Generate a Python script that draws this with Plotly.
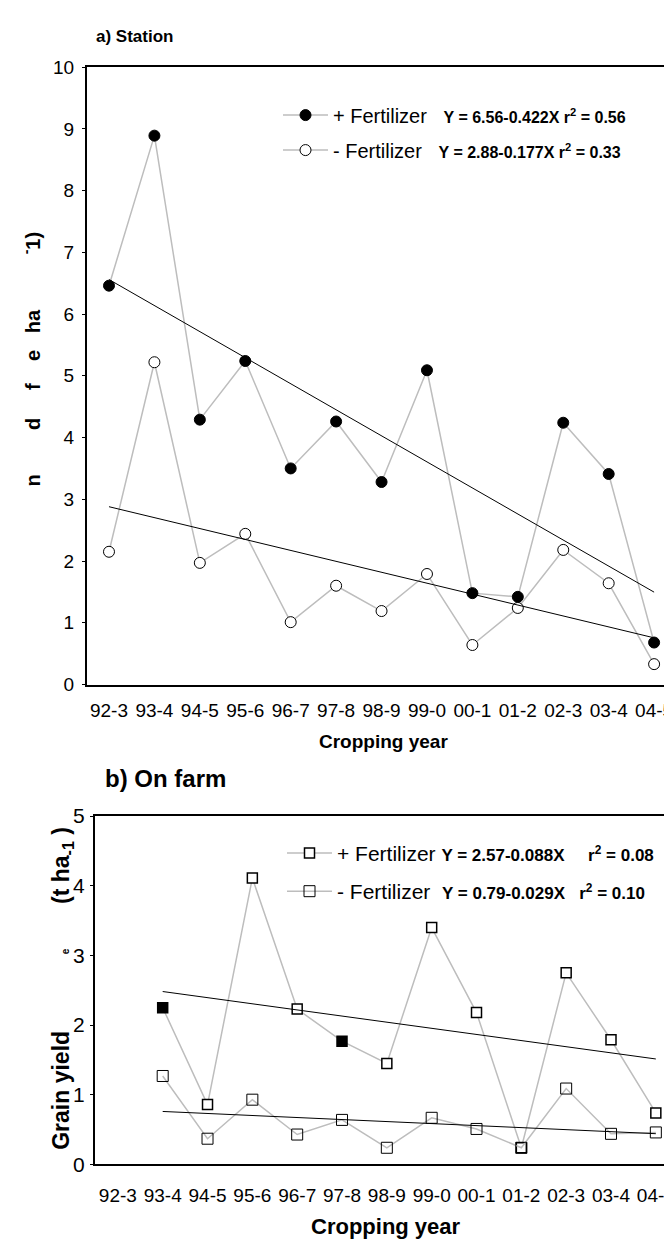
import plotly.graph_objects as go

# ---------------- data ----------------
years = ["92-3", "93-4", "94-5", "95-6", "96-7", "97-8", "98-9",
         "99-0", "00-1", "01-2", "02-3", "03-4", "04-5"]

station_plus = [6.46, 8.89, 4.29, 5.24, 3.50, 4.26, 3.28, 5.09, 1.48, 1.42, 4.24, 3.41, 0.68]
station_minus = [2.15, 5.22, 1.97, 2.44, 1.01, 1.60, 1.19, 1.79, 0.64, 1.24, 2.18, 1.64, 0.33]

farm_plus = [None, 2.25, 0.86, 4.11, 2.23, 1.77, 1.45, 3.40, 2.18, 0.24, 2.75, 1.79, 0.74]
farm_minus = [None, 1.27, 0.37, 0.93, 0.43, 0.64, 0.24, 0.67, 0.51, 0.24, 1.09, 0.44, 0.46]

# regression equations printed on the chart (X = 0 at 92-3)
station_plus_fit = (6.56, -0.422)
station_minus_fit = (2.88, -0.177)
farm_plus_fit = (2.57, -0.088)
farm_minus_fit = (0.79, -0.029)

station_plus_label = ("+ Fertilizer", "Y = 6.56-0.422X", "0.56")
station_minus_label = ("- Fertilizer", "Y = 2.88-0.177X", "0.33")
farm_plus_label = ("+ Fertilizer", "Y = 2.57-0.088X", "0.08")
farm_minus_label = ("- Fertilizer", "Y = 0.79-0.029X", "0.10")

station_ticks = [0, 1, 2, 3, 4, 5, 6, 7, 8, 9, 10]
farm_ticks = [0, 1, 2, 3, 4, 5]

# per-point marker fills of the on-farm "+ Fertilizer" squares (style)
farm_plus_fill = ["white", "black", "white", "white", "white", "black", "white",
                  "white", "white", "white", "white", "white", "white"]

# ---------------- style ----------------
W, H = 672, 1247
FONT = "Liberation Sans, Arial, sans-serif"
GREY = "#bdbdbd"
NB = "&nbsp;"


def px_x(p):
    return p / W


def px_y(p):
    return 1 - p / H


def fit_line(fit, i0, i1):
    a, b = fit
    return [years[i0], years[i1]], [a + b * i0, a + b * i1]


def legend_text(lbl, fs_main, fs_eq, gap1, gap2):
    name, eq, r2 = lbl
    return (f"<span style='font-size:{fs_main}px'>{name}</span>" + NB * gap1 +
            f"<span style='font-size:{fs_eq}px'><b>{eq}" + NB * gap2 +
            f"r<sup>2</sup> = {r2}</b></span>")


fig = go.Figure()

# ---- station panel ----
fig.add_trace(go.Scatter(
    x=years, y=station_plus, mode="lines+markers",
    line=dict(color=GREY, width=1.5),
    marker=dict(symbol="circle", size=11, color="black", line=dict(color="black", width=1)),
    name=legend_text(station_plus_label, 20, 16, 3, 1), legend="legend", legendgroup="sp",
    xaxis="x", yaxis="y"))
fig.add_trace(go.Scatter(
    x=years, y=station_minus, mode="lines+markers",
    line=dict(color=GREY, width=1.5),
    marker=dict(symbol="circle", size=11, color="white", line=dict(color="black", width=1)),
    name=legend_text(station_minus_label, 20, 16, 3, 1), legend="legend", legendgroup="sm",
    xaxis="x", yaxis="y"))
for fit in (station_plus_fit, station_minus_fit):
    xs, ys = fit_line(fit, 0, 12)
    fig.add_trace(go.Scatter(x=xs, y=ys, mode="lines", line=dict(color="black", width=1),
                             showlegend=False, xaxis="x", yaxis="y", hoverinfo="skip"))

# ---- farm panel ----
fig.add_trace(go.Scatter(
    x=years, y=farm_plus, mode="lines+markers",
    line=dict(color=GREY, width=1.5),
    marker=dict(symbol="square", size=10, color=farm_plus_fill, line=dict(color="black", width=1.5)),
    name=legend_text(farm_plus_label, 21, 17, 1, 5), legend="legend2", legendgroup="fp",
    xaxis="x2", yaxis="y2"))
fig.add_trace(go.Scatter(
    x=years, y=farm_minus, mode="lines+markers",
    line=dict(color=GREY, width=1.5),
    marker=dict(symbol="square-open", size=11, color="black", line=dict(color="black", width=1)),
    name=legend_text(farm_minus_label, 21, 17, 2, 3), legend="legend2", legendgroup="fm",
    xaxis="x2", yaxis="y2"))
for fit in (farm_plus_fit, farm_minus_fit):
    xs, ys = fit_line(fit, 1, 12)
    fig.add_trace(go.Scatter(x=xs, y=ys, mode="lines", line=dict(color="black", width=1),
                             showlegend=False, xaxis="x2", yaxis="y2", hoverinfo="skip"))

top_dom_x = [px_x(79), px_x(667)]
top_dom_y = [px_y(677), px_y(48)]
bot_dom_x = [px_x(87), px_x(668)]
bot_dom_y = [px_y(1166), px_y(811)]

axis_common = dict(showgrid=False, zeroline=False, showline=True, linecolor="black",
                   mirror=True, color="black")

fig.update_layout(
    width=W, height=H,
    margin=dict(l=0, r=0, t=0, b=0),
    paper_bgcolor="white", plot_bgcolor="white",
    font=dict(family=FONT, color="black"),
    showlegend=True,
    xaxis=dict(domain=top_dom_x, anchor="y", type="category",
               categoryorder="array", categoryarray=years, range=[-0.484, 12.46],
               ticks="", tickfont=dict(size=19), ticklabelstandoff=8,
               linewidth=2, **axis_common),
    yaxis=dict(domain=top_dom_y, anchor="x", range=[0, 10], tickvals=station_ticks,
               ticks="outside", ticklen=3, tickfont=dict(size=19), ticklabelstandoff=4,
               linewidth=2, **axis_common),
    yaxis3=dict(domain=top_dom_y, anchor="x", overlaying="y", side="right", range=[0, 10],
                tickvals=station_ticks, ticks="inside", ticklen=5, showticklabels=False,
                showgrid=False, zeroline=False, showline=False),
    xaxis2=dict(domain=bot_dom_x, anchor="y2", type="category",
                categoryorder="array", categoryarray=years, range=[-0.51, 12.45],
                ticks="", tickfont=dict(size=19), ticklabelstandoff=13,
                linewidth=2, **axis_common),
    yaxis2=dict(domain=bot_dom_y, anchor="x2", range=[0, 5], tickvals=farm_ticks,
                ticks="outside", ticklen=3, tickfont=dict(size=21), ticklabelstandoff=1,
                linewidth=2, **axis_common),
    yaxis4=dict(domain=bot_dom_y, anchor="x2", overlaying="y2", side="right", range=[0, 5],
                tickvals=farm_ticks, ticks="inside", ticklen=5, showticklabels=False,
                showgrid=False, zeroline=False, showline=False),
    legend=dict(x=px_x(270), y=px_y(77), xanchor="left", yanchor="top",
                bgcolor="rgba(0,0,0,0)", itemwidth=45, traceorder="grouped",
                tracegroupgap=6, font=dict(size=20, family=FONT)),
    legend2=dict(x=px_x(274), y=px_y(828), xanchor="left", yanchor="top",
                 bgcolor="rgba(0,0,0,0)", itemwidth=45, traceorder="grouped",
                 tracegroupgap=8, font=dict(size=21, family=FONT)),
)

annotations = [
    dict(text="<b>a) Station</b>", x=px_x(86), y=px_y(17), xanchor="left", yanchor="middle",
         font=dict(size=17)),
    dict(text="<b>Cropping year</b>", x=px_x(375), y=px_y(735), xanchor="center", yanchor="middle",
         font=dict(size=19)),
    dict(text="<b>b) On farm</b>", x=px_x(95), y=px_y(773), xanchor="left", yanchor="middle",
         font=dict(size=24)),
    dict(text="<b>Cropping year</b>", x=px_x(378), y=px_y(1229), xanchor="center", yanchor="middle",
         font=dict(size=22)),
    dict(text="<b>n" + NB * 8 + "d" + NB * 5 + "f" + NB * 4 + "e" + NB * 3 + "ha" +
              NB * 10 + "<sup>-</sup>1)</b>",
         x=px_x(23), y=px_y(346), xanchor="center", yanchor="middle", textangle=-90,
         font=dict(size=20)),
    dict(text="<b>Grain yield" + NB * 12 + "<span style='font-size:10px'>e</span>" +
              NB * 7 + "(t ha<sub>-1</sub> )</b>",
         x=px_x(55), y=px_y(987), xanchor="center", yanchor="middle", textangle=-90,
         font=dict(size=23)),
]
for a in annotations:
    a.update(xref="paper", yref="paper", showarrow=False)
fig.update_layout(annotations=annotations)

fig.write_html("out.html")
